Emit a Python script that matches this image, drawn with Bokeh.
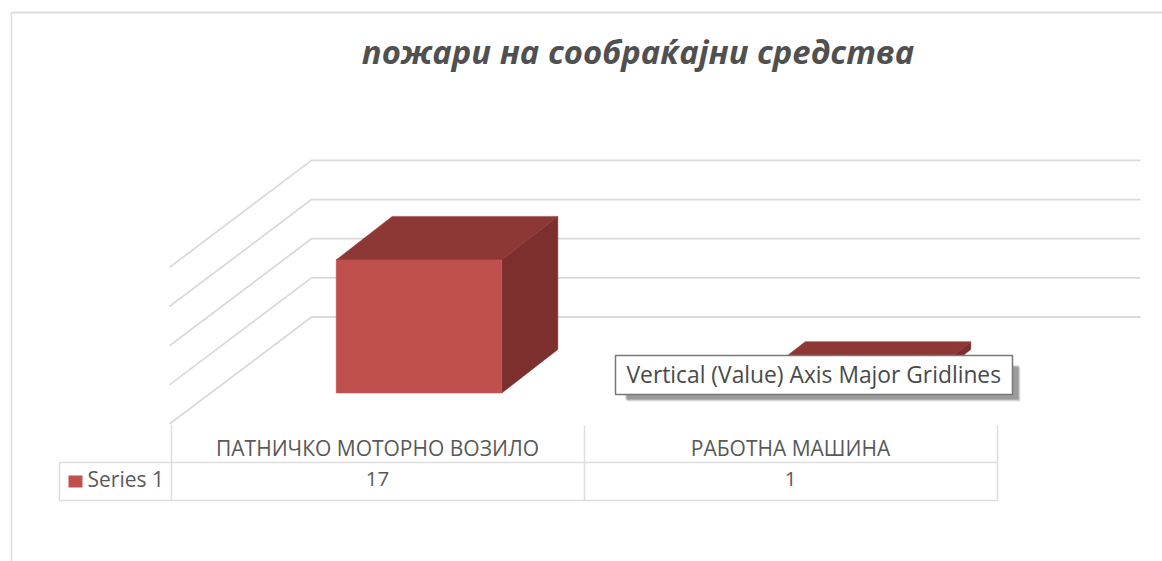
from bokeh.plotting import figure
from bokeh.models import Range1d
from bokeh.core.properties import value
from bokeh.embed import file_html
from bokeh.resources import INLINE

# ---- data ----
categories = ["ПАТНИЧКО МОТОРНО ВОЗИЛО", "РАБОТНА МАШИНА"]
series_name = "Series 1"
series_values = [17, 1]
gridline_values = [0, 5, 10, 15, 20]
title_text = "пожари на сообраќајни средства"
tooltip_text = "Vertical (Value) Axis Major Gridlines"

# ---- layout (page pixels) ----
W, H = 1162, 561
CAT0, CAT_W = 170.5, 413.0      # table column start / width
BASE, PX_PER = 392.5, 7.83      # bar-front base line / px per value unit
BAR_LEFT, BAR_W = 0.4, 0.401    # within the category, in category units
DX, DY = 56.0 / CAT_W, 43.5 / PX_PER  # depth of a bar in scale units

p = figure(width=W, height=H, output_backend="svg", toolbar_location=None,
           x_range=Range1d(0, W), y_range=Range1d(H, 0),
           min_border=0, outline_line_color=None, background_fill_color="white",
           border_fill_color="white")
p.xaxis.visible = False
p.yaxis.visible = False
p.xgrid.visible = False
p.ygrid.visible = False
p.extra_x_ranges["cat"] = Range1d((0 - CAT0) / CAT_W, (W - CAT0) / CAT_W)
p.extra_y_ranges["val"] = Range1d((BASE - H) / PX_PER, BASE / PX_PER)
S = dict(x_range_name="cat", y_range_name="val")

GRID = "#DADADA"
TXT = "#595959"

# chart frame
p.line([11, 11], [H, 12], line_color="#DDDDDD", line_width=1.5)
p.line([11, W], [12, 12], line_color="#DDDDDD", line_width=2)

# gridlines: front-left wall, then back wall
G_FRONT = -31.0 / 43.5   # depth fractions of a bar depth
G_BACK = 76.0 / 43.5
G_X0 = (169.0 - CAT0) / CAT_W
G_X1 = (311.0 - CAT0) / CAT_W
G_X2 = (1140.0 - CAT0) / CAT_W
for v in gridline_values:
    p.line([G_X0, G_X1, G_X2],
           [v + G_FRONT * DY, v + G_BACK * DY, v + G_BACK * DY],
           line_color=GRID, line_width=1.8, **S)

# 3-D columns
for i, val in enumerate(series_values):
    x0 = i + BAR_LEFT
    x1 = x0 + BAR_W
    p.patch([x1, x1 + DX, x1 + DX, x1], [0, DY, val + DY, val],
            fill_color="#7C2F2D", line_color="#7C2F2D", line_width=0.5, **S)
    p.patch([x0, x1, x1 + DX, x0 + DX], [val, val, val + DY, val + DY],
            fill_color="#8E3836", line_color="#8E3836", line_width=0.5, **S)
    p.quad(left=[x0], right=[x1], bottom=[0], top=[val],
           fill_color="#C0504D", line_color="#C0504D", line_width=0.5, **S)

# data table
TBL = "#DDDDDD"
for xc in [171, 584, 997]:
    p.line([xc, xc], [425, 500], line_color=TBL, line_width=1.5)
p.line([59, 59], [462, 500], line_color=TBL, line_width=1.5)
for yc in [462, 500]:
    p.line([59, 997], [yc, yc], line_color=TBL, line_width=1.5)
p.quad(left=[68], right=[82], top=[475], bottom=[487], fill_color="#C0504D", line_color=None)

font = value("Open Sans")
for i, c in enumerate(categories):
    xm = i + 0.5
    p.text([xm], [(BASE - 447.5) / PX_PER], text=[c], text_font=font, text_font_size="21px",
           text_color=TXT, text_align="center", text_baseline="middle", **S)
    p.text([xm], [(BASE - 478.5) / PX_PER], text=[str(series_values[i])], text_font=font,
           text_font_size="20.5px", text_color=TXT, text_align="center",
           text_baseline="middle", **S)
p.text([87], [478.5], text=[series_name], text_font=font, text_font_size="21px",
       text_color=TXT, text_align="left", text_baseline="middle")

# title
p.text([637.5], [51], text=[title_text], text_font=font, text_font_size="32.8px",
       text_font_style="bold italic", text_color="#505050",
       text_align="center", text_baseline="middle")

# tooltip with soft shadow
for off, a in [(8, 0.15), (7, 0.25), (6, 0.35)]:
    p.quad(left=[615 + off + 4], right=[1013 + off - 1], top=[355 + off + 4], bottom=[394 + off - 1],
           fill_color="#555555", fill_alpha=a, line_color=None)
p.quad(left=[615], right=[1012], top=[355], bottom=[394], fill_color="white",
       line_color="#777777", line_width=1.5)
p.text([626], [374], text=[tooltip_text], text_font=value("Open Sans"), text_font_size="22.8px",
       text_color="#4A4A4A", text_align="left", text_baseline="middle")

open("out.html", "w").write(file_html(p, INLINE))
